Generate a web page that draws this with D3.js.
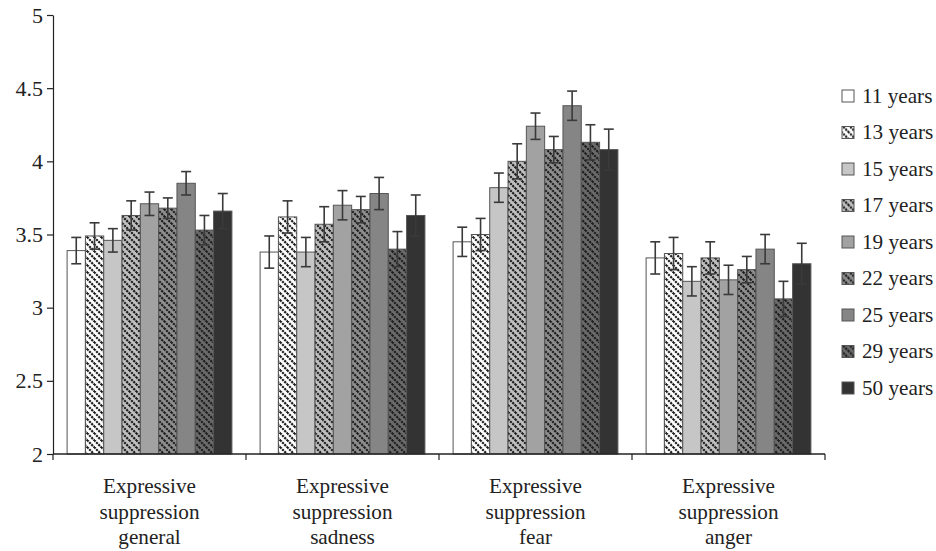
<!DOCTYPE html>
<html>
<head>
<meta charset="utf-8">
<script src="https://cdn.jsdelivr.net/npm/d3@7"></script>
<style>
  html, body { margin: 0; padding: 0; background: #fff; }
</style>
</head>
<body>
<svg id="chart" width="936" height="551"></svg>
<script>
// Categories along the x axis (each label drawn on three lines)
const categories = ["general", "sadness", "fear", "anger"];
const categoryLines = [
  ["Expressive", "suppression", "general"],
  ["Expressive", "suppression", "sadness"],
  ["Expressive", "suppression", "fear"],
  ["Expressive", "suppression", "anger"]
];

// Age groups (legend order)
const ages = ["11 years", "13 years", "15 years", "17 years", "19 years",
              "22 years", "25 years", "29 years", "50 years"];

// Mean scores per age group, one value per category (general, sadness, fear, anger)
const age11 = [3.39, 3.38, 3.45, 3.34];
const age13 = [3.49, 3.62, 3.50, 3.37];
const age15 = [3.46, 3.38, 3.82, 3.18];
const age17 = [3.63, 3.57, 4.00, 3.34];
const age19 = [3.71, 3.70, 4.24, 3.19];
const age22 = [3.68, 3.67, 4.08, 3.26];
const age25 = [3.85, 3.78, 4.38, 3.40];
const age29 = [3.53, 3.40, 4.13, 3.06];
const age50 = [3.66, 3.63, 4.08, 3.30];

// Standard errors (half-length of each error bar)
const err11 = [0.09, 0.11, 0.10, 0.11];
const err13 = [0.09, 0.11, 0.11, 0.11];
const err15 = [0.08, 0.10, 0.10, 0.10];
const err17 = [0.10, 0.12, 0.12, 0.11];
const err19 = [0.08, 0.10, 0.09, 0.10];
const err22 = [0.07, 0.09, 0.09, 0.09];
const err25 = [0.08, 0.11, 0.10, 0.10];
const err29 = [0.10, 0.12, 0.12, 0.12];
const err50 = [0.12, 0.14, 0.14, 0.14];

const yTicks = [2, 2.5, 3, 3.5, 4, 4.5, 5];

const means = [age11, age13, age15, age17, age19, age22, age25, age29, age50];
const errors = [err11, err13, err15, err17, err19, err22, err25, err29, err50];

// Fill style for each age group: base colour + optional diagonal hatching
const fills = [
  { base: "#ffffff", hatch: false },
  { base: "#ffffff", hatch: true },
  { base: "#c6c6c6", hatch: false },
  { base: "#c0c0c0", hatch: true },
  { base: "#a2a2a2", hatch: false },
  { base: "#8e8e8e", hatch: true },
  { base: "#858585", hatch: false },
  { base: "#6a6a6a", hatch: true },
  { base: "#333333", hatch: false }
];

// Pick the first installed serif face (checked by comparing canvas text widths)
const ctx = document.createElement("canvas").getContext("2d");
function widthWith(font) { ctx.font = font; return ctx.measureText("Expressive suppression 11 years 4.5").width; }
function hasFont(name) {
  return ["monospace", "sans-serif"].some(base =>
    Math.abs(widthWith(`40px "${name}", ${base}`) - widthWith(`40px ${base}`)) > 0.5);
}
const serifCandidates = ["Liberation Serif", "Times New Roman", "Tinos", "DejaVu Serif", "Noto Serif", "FreeSerif"];
const serif = serifCandidates.find(hasFont);
const FONT = serif ? `"${serif}", serif` : "'Liberation Sans Narrow', 'Liberation Sans', sans-serif";
// Size the face so a category word spans about 93px
ctx.font = `100px ${FONT}`;
const FSn = Math.max(17, Math.min(23, 93 / ctx.measureText("Expressive").width * 100));
const FS = FSn.toFixed(1) + "px";
const FS_TICK = (FSn * 1.04).toFixed(1) + "px";

const svg = d3.select("#chart");
const margin = { left: 53, right: 111, top: 15, bottom: 97 };
const H = 551;

const x0 = d3.scaleBand().domain(categories).range([margin.left, 825]).padding(0);
const x1 = d3.scaleBand().domain(ages).range([0, x0.bandwidth()]).paddingInner(0).paddingOuter(0.77);
const y = d3.scaleLinear().domain([2, 5]).range([H - margin.bottom, margin.top]);

// Hatch patterns: dark dotted diagonals running top-left to bottom-right
const defs = svg.append("defs");
fills.forEach((f, i) => {
  if (!f.hatch) return;
  const s = 7;
  const p = defs.append("pattern")
    .attr("id", "hatch" + i)
    .attr("patternUnits", "userSpaceOnUse")
    .attr("width", s).attr("height", s);
  p.append("rect").attr("width", s).attr("height", s).attr("fill", f.base);
  p.append("path")
    .attr("d", `M-1,-1 L${s + 1},${s + 1} M-${s},0 L${s},${2 * s} M0,-${s} L${2 * s},${s}`)
    .attr("stroke", "#1e1e1e").attr("stroke-width", 2.2)
    .attr("stroke-dasharray", "2.2,0.9");
});
const fillOf = i => fills[i].hatch ? `url(#hatch${i})` : fills[i].base;

// Bars and error bars per category
const groups = svg.append("g").selectAll("g")
  .data(categories)
  .join("g")
  .attr("transform", d => `translate(${x0(d)},0)`);

groups.each(function (cat, ci) {
  const g = d3.select(this);
  ages.forEach((age, ai) => {
    const v = means[ai][ci];
    g.append("rect")
      .attr("x", x1(age))
      .attr("y", y(v))
      .attr("width", x1.bandwidth())
      .attr("height", y(2) - y(v))
      .attr("fill", fillOf(ai))
      .attr("stroke", "#555")
      .attr("stroke-width", 1);
  });
  ages.forEach((age, ai) => {
    const v = means[ai][ci], e = errors[ai][ci];
    const cx = x1(age) + x1.bandwidth() / 2;
    const eg = g.append("g").attr("stroke", "#3a3a3a").attr("stroke-width", 1.6);
    eg.append("line").attr("x1", cx).attr("x2", cx).attr("y1", y(v - e)).attr("y2", y(v + e));
    eg.append("line").attr("x1", cx - 5).attr("x2", cx + 5).attr("y1", y(v + e)).attr("y2", y(v + e));
    eg.append("line").attr("x1", cx - 5).attr("x2", cx + 5).attr("y1", y(v - e)).attr("y2", y(v - e));
  });
});

// Y axis
const yAxis = svg.append("g")
  .attr("transform", `translate(${margin.left},0)`)
  .call(d3.axisLeft(y).tickValues(yTicks).tickFormat(d3.format("")).tickSize(6).tickSizeOuter(0));
yAxis.attr("font-family", FONT).attr("font-size", FS_TICK);
yAxis.select(".domain").attr("stroke", "#222").attr("stroke-width", 1.2);
yAxis.selectAll(".tick line").attr("stroke", "#222").attr("stroke-width", 1.2);
yAxis.selectAll(".tick text")
  .attr("x", -10)
  .attr("fill", "#222");

// X axis line with ticks at category boundaries
const xBase = y(2);
svg.append("line")
  .attr("x1", margin.left).attr("x2", 825)
  .attr("y1", xBase).attr("y2", xBase)
  .attr("stroke", "#222").attr("stroke-width", 1.6);
const bounds = categories.map(c => x0(c)).concat([x0(categories[categories.length - 1]) + x0.bandwidth()]);
svg.append("g").selectAll("line")
  .data(bounds)
  .join("line")
  .attr("x1", d => d).attr("x2", d => d)
  .attr("y1", xBase).attr("y2", xBase + 6)
  .attr("stroke", "#222").attr("stroke-width", 1.2);

// Category labels
categories.forEach((c, ci) => {
  const cx = x0(c) + x0.bandwidth() / 2;
  const t = svg.append("text")
    .attr("x", cx)
    .attr("y", 493)
    .attr("text-anchor", "middle")
    .attr("font-family", FONT)
    .attr("font-size", FS)
    .attr("fill", "#222");
  categoryLines[ci].forEach((line, li) => {
    t.append("tspan")
      .attr("x", cx)
      .attr("dy", li === 0 ? 0 : 25.5)
      .text(line);
  });
});

// Legend
const legend = svg.append("g").selectAll("g")
  .data(ages)
  .join("g")
  .attr("transform", (d, i) => `translate(842,${96 + i * 36.5})`);
legend.append("rect")
  .attr("x", 0).attr("y", -6).attr("width", 12).attr("height", 12)
  .attr("fill", (d, i) => fillOf(i))
  .attr("stroke", "#555").attr("stroke-width", 1);
legend.append("text")
  .attr("x", 20).attr("y", 6.5)
  .attr("font-family", FONT)
  .attr("font-size", FS)
  .attr("fill", "#222")
  .text(d => d);
</script>
</body>
</html>
